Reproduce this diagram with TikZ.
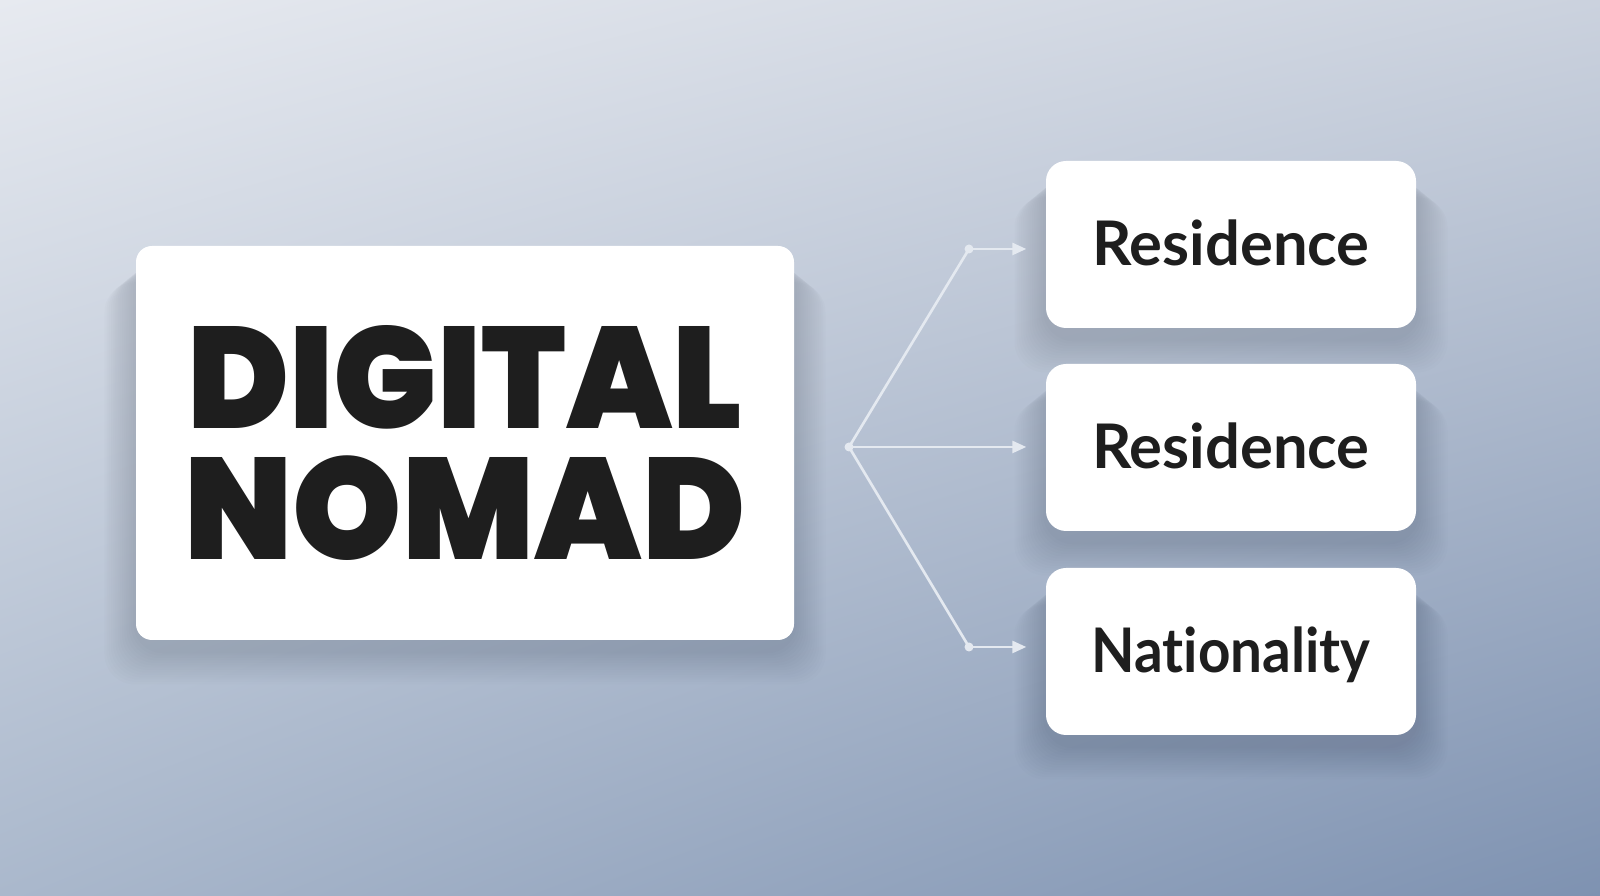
\documentclass[tikz,border=0pt]{standalone}
\usepackage{fontspec}
\setmainfont{Lato}[BoldFont=* Bold, Ligatures=NoCommon]
\newfontfamily\headfont{Poppins}[UprightFont=* Black]
\usetikzlibrary{arrows.meta,shadings}
\definecolor{bgtl}{RGB}{231,234,240}
\definecolor{bgtr}{RGB}{203,210,222}
\definecolor{bgbl}{RGB}{170,184,204}
\definecolor{bgbr}{RGB}{126,146,177}
\definecolor{inkdark}{RGB}{30,30,30}
\definecolor{linkcol}{RGB}{228,233,240}
\definecolor{shadowcol}{RGB}{60,68,82}
\pgfdeclarelayer{backdrop}
\pgfdeclarelayer{shadowlayer}
\pgfsetlayers{backdrop,shadowlayer,main}
\tikzset{
    card/.style={rectangle, fill=white, rounded corners=0.2cm},
    topicbox/.style={card, minimum width=3.70cm, minimum height=1.67cm,
      text height=0.43cm, text depth=0pt, text=inkdark,
      font=\bfseries\fontsize{17.5}{20}\selectfont},
    softshadow/.style={fill=shadowcol, opacity=0.014, rounded corners=0.3cm},
    link/.style={draw=linkcol, line width=0.75pt},
    linktip/.style={link, -{Triangle[length=0.14cm, width=0.12cm]}, shorten >=0.19cm},
    knot/.style={circle, fill=linkcol, inner sep=0pt, minimum size=0.09cm},
}

\begin{document}
\begin{tikzpicture}
\begin{pgfonlayer}{backdrop}
\shade[upper left=bgtl, upper right=bgtr, lower left=bgbl, lower right=bgbr] (0,0) rectangle (16,8.96);
\end{pgfonlayer}

\node[card, minimum width=6.58cm, minimum height=3.94cm, rounded corners=0.16cm,
    align=center, text=inkdark, font=\headfont\fontsize{41}{37.5}\selectfont] (nomad) at (4.65,4.53)
    {\scalebox{0.955}[1]{DIGITAL}\\\scalebox{0.965}[1]{NOMAD}};

\node[topicbox] (r1) at (12.31,6.515) {Residence};
\node[topicbox] (r2) at (12.31,4.485) {Residence};
\node[topicbox] (r3) at (12.31,2.445) {\scalebox{0.92}[1]{Nationality}};

% soft shadows under the cards
\begin{pgfonlayer}{shadowlayer}
\foreach \b in {nomad,r1,r2,r3}{
  \foreach \i in {1,...,14}{
    \fill[softshadow] ([xshift=-\i*0.022cm, yshift=-0.12cm-\i*0.018cm]\b.north west)
      rectangle ([xshift=\i*0.022cm, yshift=-0.10cm-\i*0.024cm]\b.south east);
  }
}
\end{pgfonlayer}

% branching connectors
\node[knot] (hub) at (8.49,4.49) {};
\node[knot] (k1) at (9.69,6.47) {};
\node[knot] (k3) at (9.69,2.49) {};
\draw[link] (hub.center) -- (k1.center);
\draw[link] (hub.center) -- (k3.center);
\draw[linktip] (k1.center) -- (k1 -| r1.west);
\draw[linktip] (hub.center) -- (hub -| r2.west);
\draw[linktip] (k3.center) -- (k3 -| r3.west);
\end{tikzpicture}
\end{document}
